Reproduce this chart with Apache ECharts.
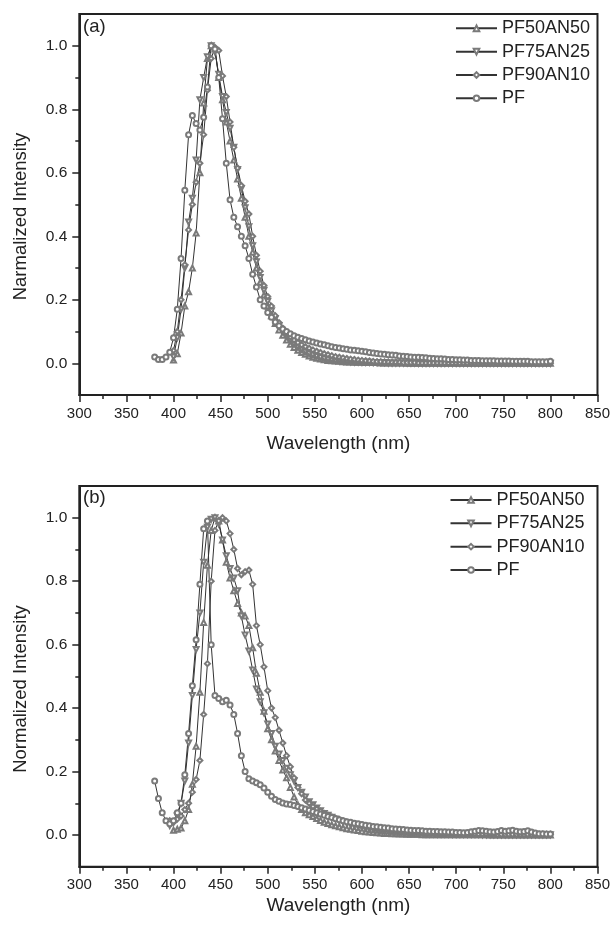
<!DOCTYPE html>
<html>
<head>
<meta charset="utf-8">
<script src="https://cdn.jsdelivr.net/npm/echarts@6/dist/echarts.min.js"></script>
<style>
  html, body { margin: 0; padding: 0; background: #fff; }
  #chart { width: 613px; height: 929px; }
</style>
</head>
<body>
<div id="chart"></div>
<script>
// sampling grid of the spectra (nm)
const wavelengths = [
  380, 384, 388, 392, 396, 400, 404, 408, 412, 416,
  420, 424, 428, 432, 436, 440, 444, 448, 452, 456,
  460, 464, 468, 472, 476, 480, 484, 488, 492, 496,
  500, 504, 508, 512, 516, 520, 524, 528, 532, 536,
  540, 544, 548, 552, 556, 560, 564, 568, 572, 576,
  580, 584, 588, 592, 596, 600, 604, 608, 612, 616,
  620, 624, 628, 632, 636, 640, 644, 648, 652, 656,
  660, 664, 668, 672, 676, 680, 684, 688, 692, 696,
  700, 704, 708, 712, 716, 720, 724, 728, 732, 736,
  740, 744, 748, 752, 756, 760, 764, 768, 772, 776,
  780, 784, 788, 792, 796, 800
];

const seriesNames = ['PF50AN50', 'PF75AN25', 'PF90AN10', 'PF'];
const xTicks = [300, 350, 400, 450, 500, 550, 600, 650, 700, 750, 800, 850];
const yTicks = [0.0, 0.2, 0.4, 0.6, 0.8, 1.0];
const yMinorTicks = [0.1, 0.3, 0.5, 0.7, 0.9];

// ---- panel (a) ----  first wavelength of each series
const startA = { PF50AN50: 400, PF75AN25: 400, PF90AN10: 400, PF: 380 };

const pf50A = [
  0.010, 0.030, 0.095, 0.180, 0.225, 0.300, 0.410, 0.600, 0.820, 0.960,
  1.000, 0.990, 0.900, 0.830, 0.760, 0.700, 0.640, 0.580, 0.520, 0.460,
  0.400, 0.350, 0.300, 0.255, 0.215, 0.180, 0.150, 0.125, 0.105, 0.088,
  0.073, 0.060, 0.050, 0.041, 0.034, 0.028, 0.023, 0.019, 0.016, 0.013,
  0.011, 0.009, 0.008, 0.007, 0.006, 0.005, 0.004, 0.004, 0.003, 0.003,
  0.003, 0.002, 0.002, 0.002, 0.002, 0.001, 0.001, 0.001, 0.001, 0.001,
  0.001, 0.001, 0.000, 0.000, 0.000, 0.000, 0.000, 0.000, 0.000, 0.000,
  0.000, 0.000, 0.000, 0.000, 0.000, 0.000, 0.000, 0.000, 0.000, 0.000,
  0.000, 0.000, 0.000, 0.000, 0.000, 0.000, 0.000, 0.000, 0.000, 0.000,
  0.000, 0.000, 0.000, 0.000, 0.000, 0.000, 0.000, 0.000, 0.000, 0.000,
  0.000
];
const pf75A = [
  0.020, 0.080, 0.170, 0.300, 0.445, 0.520, 0.640, 0.830, 0.900, 0.965,
  1.000, 0.980, 0.910, 0.840, 0.790, 0.740, 0.680, 0.610, 0.550, 0.490,
  0.430, 0.370, 0.320, 0.270, 0.230, 0.195, 0.165, 0.140, 0.118, 0.100,
  0.085, 0.072, 0.061, 0.052, 0.044, 0.037, 0.031, 0.026, 0.022, 0.018,
  0.015, 0.013, 0.011, 0.009, 0.008, 0.007, 0.006, 0.005, 0.004, 0.004,
  0.003, 0.003, 0.003, 0.002, 0.002, 0.002, 0.002, 0.001, 0.001, 0.001,
  0.001, 0.001, 0.001, 0.001, 0.001, 0.000, 0.000, 0.000, 0.000, 0.000,
  0.000, 0.000, 0.000, 0.000, 0.000, 0.000, 0.000, 0.000, 0.000, 0.000,
  0.000, 0.000, 0.000, 0.000, 0.000, 0.000, 0.000, 0.000, 0.000, 0.000,
  0.000, 0.000, 0.000, 0.000, 0.000, 0.000, 0.000, 0.000, 0.000, 0.000,
  0.000
];
const pf90A = [
  0.040, 0.100, 0.200, 0.310, 0.420, 0.500, 0.570, 0.630, 0.720, 0.860,
  0.960, 0.995, 0.985, 0.905, 0.840, 0.760, 0.680, 0.615, 0.560, 0.510,
  0.470, 0.400, 0.340, 0.290, 0.245, 0.210, 0.180, 0.150, 0.128, 0.110,
  0.095, 0.083, 0.073, 0.065, 0.058, 0.052, 0.047, 0.042, 0.038, 0.034,
  0.030, 0.027, 0.024, 0.021, 0.019, 0.017, 0.015, 0.013, 0.012, 0.010,
  0.009, 0.008, 0.007, 0.006, 0.005, 0.005, 0.004, 0.004, 0.003, 0.003,
  0.003, 0.002, 0.002, 0.002, 0.002, 0.001, 0.001, 0.001, 0.001, 0.001,
  0.001, 0.001, 0.001, 0.001, 0.001, 0.001, 0.000, 0.000, 0.000, 0.000,
  0.000, 0.000, 0.000, 0.000, 0.000, 0.000, 0.000, 0.000, 0.000, 0.000,
  0.000, 0.000, 0.000, 0.000, 0.000, 0.000, 0.000, 0.000, 0.000, 0.000,
  0.000
];
const pfA = [
  0.020, 0.012, 0.012, 0.020, 0.035, 0.080, 0.170, 0.330, 0.545, 0.720,
  0.780, 0.755, 0.735, 0.775, 0.870, 1.000, 0.990, 0.900, 0.770, 0.630,
  0.515, 0.460, 0.430, 0.400, 0.370, 0.330, 0.280, 0.240, 0.200, 0.180,
  0.160, 0.145, 0.130, 0.118, 0.108, 0.100, 0.093, 0.087, 0.082, 0.078,
  0.074, 0.070, 0.067, 0.064, 0.061, 0.058, 0.055, 0.052, 0.050, 0.048,
  0.046, 0.044, 0.042, 0.041, 0.039, 0.038, 0.036, 0.034, 0.032, 0.031,
  0.029, 0.028, 0.027, 0.026, 0.025, 0.023, 0.022, 0.021, 0.020, 0.019,
  0.019, 0.018, 0.017, 0.016, 0.015, 0.014, 0.014, 0.013, 0.012, 0.012,
  0.011, 0.011, 0.010, 0.010, 0.009, 0.009, 0.009, 0.008, 0.008, 0.008,
  0.008, 0.007, 0.007, 0.007, 0.007, 0.006, 0.006, 0.006, 0.006, 0.006,
  0.005, 0.005, 0.005, 0.005, 0.005, 0.006
];

// ---- panel (b) ----
const startB = { PF50AN50: 400, PF75AN25: 396, PF90AN10: 396, PF: 380 };

const pf50B = [
  0.015, 0.018, 0.022, 0.045, 0.080, 0.160, 0.280, 0.450, 0.670, 0.850,
  0.960, 1.000, 0.990, 0.930, 0.860, 0.810, 0.770, 0.730, 0.700, 0.690,
  0.660, 0.590, 0.510, 0.450, 0.390, 0.335, 0.300, 0.265, 0.235, 0.205,
  0.180, 0.150, 0.120, 0.095, 0.080, 0.070, 0.064, 0.058, 0.052, 0.046,
  0.040, 0.036, 0.032, 0.029, 0.026, 0.023, 0.020, 0.018, 0.016, 0.014,
  0.012, 0.010, 0.009, 0.008, 0.007, 0.006, 0.005, 0.005, 0.004, 0.004,
  0.003, 0.003, 0.002, 0.002, 0.002, 0.002, 0.001, 0.001, 0.001, 0.001,
  0.001, 0.001, 0.001, 0.001, 0.001, 0.001, 0.001, 0.001, 0.001, 0.001,
  0.001, 0.001, 0.001, 0.001, 0.000, 0.000, 0.000, 0.000, 0.000, 0.000,
  0.000, 0.000, 0.000, 0.000, 0.000, 0.000, 0.000, 0.000, 0.000, 0.000,
  0.000
];
const pf75B = [
  0.030, 0.040, 0.060, 0.100, 0.170, 0.290, 0.440, 0.585, 0.700, 0.860,
  0.970, 0.995, 1.000, 0.980, 0.930, 0.880, 0.840, 0.810, 0.770, 0.690,
  0.630, 0.580, 0.520, 0.460, 0.420, 0.385, 0.350, 0.320, 0.280, 0.255,
  0.235, 0.210, 0.190, 0.170, 0.150, 0.135, 0.120, 0.105, 0.095, 0.085,
  0.076, 0.068, 0.062, 0.056, 0.050, 0.045, 0.041, 0.037, 0.033, 0.030,
  0.027, 0.024, 0.021, 0.019, 0.017, 0.015, 0.013, 0.012, 0.011, 0.010,
  0.009, 0.008, 0.007, 0.007, 0.006, 0.006, 0.005, 0.005, 0.004, 0.004,
  0.004, 0.003, 0.003, 0.003, 0.003, 0.002, 0.002, 0.002, 0.002, 0.002,
  0.002, 0.002, 0.002, 0.001, 0.001, 0.001, 0.001, 0.001, 0.001, 0.001,
  0.001, 0.001, 0.001, 0.001, 0.001, 0.001, 0.001, 0.001, 0.001, 0.001,
  0.001, 0.001
];
const pf90B = [
  0.045, 0.040, 0.050, 0.060, 0.080, 0.100, 0.135, 0.175, 0.235, 0.380,
  0.540, 0.800, 0.960, 0.990, 1.000, 0.990, 0.950, 0.900, 0.840, 0.820,
  0.830, 0.835, 0.790, 0.660, 0.600, 0.530, 0.455, 0.400, 0.370, 0.330,
  0.290, 0.250, 0.215, 0.180, 0.150, 0.130, 0.110, 0.100, 0.090, 0.082,
  0.075, 0.068, 0.062, 0.057, 0.052, 0.048, 0.044, 0.040, 0.037, 0.034,
  0.031, 0.029, 0.027, 0.025, 0.023, 0.021, 0.020, 0.018, 0.017, 0.016,
  0.015, 0.014, 0.013, 0.012, 0.011, 0.010, 0.009, 0.009, 0.008, 0.008,
  0.007, 0.007, 0.006, 0.006, 0.005, 0.005, 0.005, 0.004, 0.004, 0.004,
  0.004, 0.003, 0.003, 0.003, 0.003, 0.003, 0.003, 0.002, 0.002, 0.002,
  0.002, 0.002, 0.002, 0.002, 0.002, 0.002, 0.002, 0.002, 0.002, 0.002,
  0.002, 0.002
];
const pfB = [
  0.170, 0.115, 0.070, 0.045, 0.035, 0.045, 0.070, 0.100, 0.190, 0.320,
  0.470, 0.615, 0.790, 0.965, 0.990, 0.600, 0.440, 0.430, 0.420, 0.425,
  0.410, 0.380, 0.320, 0.250, 0.200, 0.177, 0.170, 0.165, 0.158, 0.148,
  0.135, 0.122, 0.112, 0.106, 0.101, 0.098, 0.096, 0.093, 0.090, 0.086,
  0.082, 0.078, 0.074, 0.070, 0.066, 0.062, 0.058, 0.055, 0.051, 0.048,
  0.045, 0.042, 0.040, 0.037, 0.035, 0.033, 0.031, 0.029, 0.027, 0.026,
  0.024, 0.023, 0.022, 0.020, 0.019, 0.018, 0.017, 0.016, 0.015, 0.014,
  0.014, 0.013, 0.012, 0.012, 0.011, 0.011, 0.010, 0.010, 0.009, 0.009,
  0.008, 0.008, 0.007, 0.008, 0.010, 0.012, 0.014, 0.013, 0.012, 0.010,
  0.009, 0.011, 0.014, 0.012, 0.013, 0.015, 0.012, 0.010, 0.011, 0.013,
  0.009, 0.006, 0.004, 0.004, 0.003, 0.003
];

const panelA = { PF50AN50: pf50A, PF75AN25: pf75A, PF90AN10: pf90A, PF: pfA };
const panelB = { PF50AN50: pf50B, PF75AN25: pf75B, PF90AN10: pf90B, PF: pfB };

const symbols = {
  PF50AN50: ['emptyTriangle', 0],
  PF75AN25: ['emptyTriangle', 180],
  PF90AN10: ['emptyDiamond', 0],
  PF: ['emptyCircle', 0]
};

const FONT = "'Liberation Sans', Arial, sans-serif";
const INK = '#222';

function pairs(values, start) {
  const off = wavelengths.indexOf(start);
  return values.map((v, i) => [wavelengths[off + i], v]);
}

function makeSeries(panel, starts, xIdx, yIdx) {
  return seriesNames.map(name => ({
    name: name,
    type: 'line',
    xAxisIndex: xIdx,
    yAxisIndex: yIdx,
    data: pairs(panel[name], starts[name]),
    symbol: symbols[name][0],
    symbolRotate: symbols[name][1],
    symbolSize: 5,
    showAllSymbol: true,
    itemStyle: { color: '#7a7a7a', borderWidth: 0.8 },
    lineStyle: { color: '#333', width: 1 },
    emphasis: { disabled: true },
    animation: false
  }));
}

function xAxisFor(gridIndex, gap) {
  return {
    type: 'value', gridIndex: gridIndex,
    min: 300, max: 850, interval: 50,
    name: 'Wavelength (nm)', nameLocation: 'middle', nameGap: gap,
    nameTextStyle: { fontFamily: FONT, fontSize: 19, color: INK },
    axisLine: { show: true, onZero: false, lineStyle: { color: INK, width: 2 } },
    axisTick: { show: true, length: 7, lineStyle: { color: INK, width: 1.5 } },
    minorTick: { show: true, splitNumber: 2, length: 4, lineStyle: { color: INK, width: 1.5 } },
    axisLabel: { fontFamily: FONT, fontSize: 15, color: INK, margin: 11,
      customValues: xTicks },
    splitLine: { show: false }
  };
}

function yAxesFor(gridIndex) {
  return [{
    type: 'value', gridIndex: gridIndex, position: 'left', offset: 0,
    min: -0.1, max: 1.1,
    axisLine: { show: true, onZero: false, lineStyle: { color: INK, width: 2 } },
    axisTick: { show: true, length: 7, customValues: yTicks, lineStyle: { color: INK, width: 1.5 } },
    axisLabel: { fontFamily: FONT, fontSize: 15.5, color: INK, margin: 12,
      customValues: yTicks, formatter: v => v.toFixed(1) },
    splitLine: { show: false }
  }, {
    type: 'value', gridIndex: gridIndex, position: 'left', offset: 0,
    min: -0.1, max: 1.1,
    axisLine: { show: false },
    axisTick: { show: true, length: 4, customValues: yMinorTicks, lineStyle: { color: INK, width: 1.5 } },
    axisLabel: { show: false },
    splitLine: { show: false }
  }];
}

function legendFor(left, top) {
  return {
    orient: 'vertical', left: left, top: top, padding: 0,
    itemGap: 0, itemWidth: 41, itemHeight: 7,
    selectedMode: false,
    data: seriesNames,
    textStyle: { fontFamily: FONT, fontSize: 18, color: INK, lineHeight: 23.3 }
  };
}

function text(str, x, y, size, rot) {
  return {
    type: 'text', x: x, y: y, rotation: rot || 0,
    style: { text: str, fontFamily: FONT, fontSize: size, fill: INK,
      align: rot ? 'center' : 'left', verticalAlign: 'middle' }
  };
}

var dom = document.getElementById('chart');
var myChart = echarts.init(dom, null, { renderer: 'canvas' });

const option = {
  backgroundColor: '#fff',
  animation: false,
  grid: [
    { left: 79.3, top: 14, width: 520, height: 381, show: true, borderColor: INK, borderWidth: 2 },
    { left: 79.3, top: 486, width: 520, height: 380.7, show: true, borderColor: INK, borderWidth: 2 }
  ],
  xAxis: [xAxisFor(0, 39), xAxisFor(1, 30)],
  yAxis: yAxesFor(0).concat(yAxesFor(1)),
  legend: [legendFor(455, 16.7), legendFor(449.5, 488.4)],
  graphic: [
    text('(a)', 83, 26.5, 18.5),
    text('(b)', 83, 497.5, 18.5),
    text('Narmalized Intensity', 21.4, 216.5, 18.5, Math.PI / 2),
    text('Normalized Intensity', 21.4, 689, 18.5, Math.PI / 2)
  ],
  series: makeSeries(panelA, startA, 0, 0).concat(makeSeries(panelB, startB, 1, 2))
};
myChart.setOption(option);
</script>
</body>
</html>
